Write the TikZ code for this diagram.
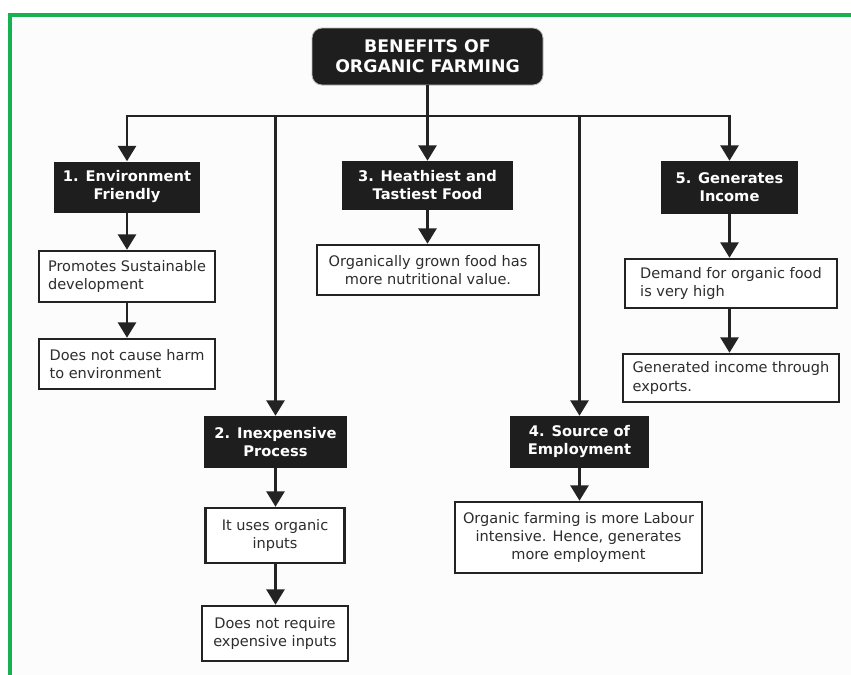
\documentclass[tikz,border=0pt]{standalone}
\usepackage{fontspec}
\setmainfont{DejaVu Sans}
\usetikzlibrary{arrows.meta}
\newdimen\pxu \pxu=0.75pt
\definecolor{framegreen}{RGB}{22,178,80}
\definecolor{bgc}{RGB}{252,252,252}
\definecolor{catfill}{RGB}{30,30,30}
\definecolor{linec}{RGB}{35,35,35}
\definecolor{textc}{RGB}{45,45,45}
\tikzset{
  titlebox/.style={fill=catfill, draw=gray!55, line width=0.6pt, rounded corners=7.5pt, text=white,
    font=\bfseries\fontsize{13}{15}\selectfont, align=center, inner sep=0pt},
  catbox/.style={fill=catfill, text=white, font=\bfseries\fontsize{11}{13.5}\selectfont,
    align=center, inner sep=0pt},
  subbox/.style={draw=linec, line width=1.9pt, fill=white, text=textc,
    font=\fontsize{10.9}{13.8}\selectfont, inner sep=0pt},
  conn/.style={draw=linec, line width=1.9pt},
  arr/.style={conn, -{Triangle[width=13.5pt,length=11.5pt]}}
}
\begin{document}
\begin{tikzpicture}[x=0.75pt,y=-0.75pt]
\useasboundingbox (0,0) rectangle (851,675);
\fill[white] (0,0) rectangle (851,675);
\fill[bgc] (10,14.5) rectangle (851,675);
\draw[framegreen, line width=3pt, line join=miter] (10,676) -- (10,14.5) -- (852,14.5);

\node[titlebox, minimum width=231\pxu, minimum height=57\pxu] (title) at (427.5,56.5) {BENEFITS OF\\ORGANIC FARMING};

\node[catbox, minimum width=146\pxu, minimum height=51\pxu] (b1) at (127,187) {1. Environment\\Friendly};
\node[subbox, minimum width=176\pxu, minimum height=51\pxu, align=left] (s1a) at (127,276.5) {Promotes Sustainable\\development};
\node[subbox, minimum width=176\pxu, minimum height=50\pxu, align=left] (s1b) at (127,364) {Does not cause harm\\to environment};

\node[catbox, minimum width=171\pxu, minimum height=49\pxu] (b3) at (427.5,185.5) {3. Heathiest and\\Tastiest Food};
\node[subbox, minimum width=222\pxu, minimum height=50\pxu, align=center] (s3) at (428,270) {Organically grown food has\\more nutritional value.};

\node[catbox, minimum width=137\pxu, minimum height=53\pxu] (b5) at (729.5,187.5) {5. Generates\\Income};
\node[subbox, minimum width=212\pxu, minimum height=49\pxu, align=left] (s5a) at (731,283.5) {Demand for organic food\\is very high};
\node[subbox, minimum width=216\pxu, minimum height=48\pxu, align=left] (s5b) at (731,378) {Generated income through\\exports.};

\node[catbox, minimum width=143\pxu, minimum height=52\pxu] (b2) at (275.5,442) {2. Inexpensive\\Process};
\node[subbox, minimum width=139\pxu, minimum height=55\pxu, align=center] (s2a) at (275,535.5) {It uses organic\\inputs};
\node[subbox, minimum width=146\pxu, minimum height=55\pxu, align=center] (s2b) at (275,633.5) {Does not require\\expensive inputs};

\node[catbox, minimum width=139\pxu, minimum height=52\pxu] (b4) at (579.5,442) {4. Source of\\Employment};
\node[subbox, minimum width=247\pxu, minimum height=71\pxu, align=center] (s4) at (578.5,537.5) {Organic farming is more Labour\\intensive. Hence, generates\\more employment};

\coordinate (bus) at (427.5,116);
\draw[conn] (title.south) -- (title.south |- bus);
\draw[conn, line cap=rect] (b1.north |- bus) -- (b5.north |- bus);
\foreach \b in {b1,b2,b3,b4,b5}
  \draw[arr] (\b.north |- bus) -- (\b.north);

\draw[arr] (b1.south) -- (b1.south |- s1a.north);
\draw[arr] (s1a.south) -- (s1a.south |- s1b.north);
\draw[arr] (b3.south) -- (b3.south |- s3.north);
\draw[arr] (b5.south) -- (b5.south |- s5a.north);
\draw[arr] (b5.south |- s5a.south) -- (b5.south |- s5b.north);
\draw[arr] (b2.south) -- (b2.south |- s2a.north);
\draw[arr] (b2.south |- s2a.south) -- (b2.south |- s2b.north);
\draw[arr] (b4.south) -- (b4.south |- s4.north);
\end{tikzpicture}
\end{document}
